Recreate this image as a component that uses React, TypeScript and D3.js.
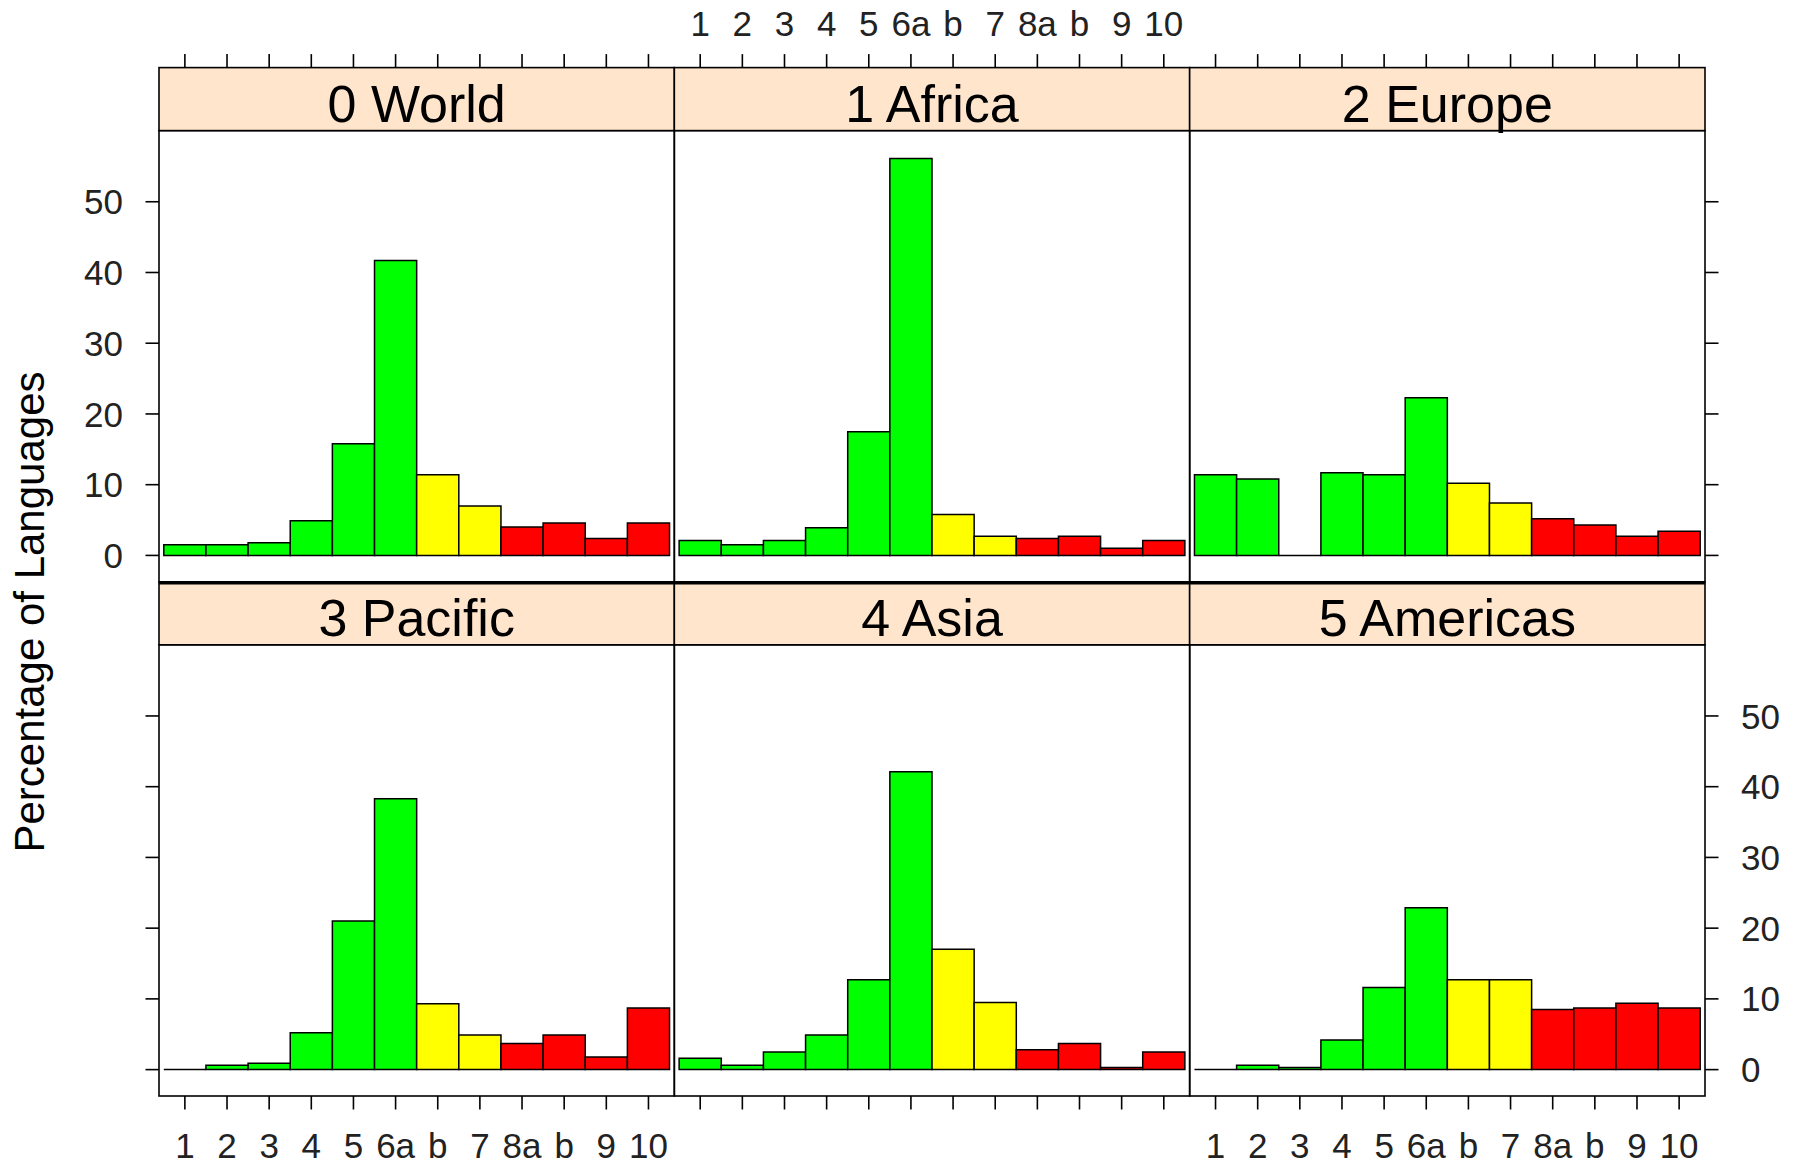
import React from "react";
import * as d3 from "d3";

// ---- data ----
const categories = ["1", "2", "3", "4", "5", "6a", "b", "7", "8a", "b", "9", "10"];
const tiers = ["g", "g", "g", "g", "g", "g", "y", "y", "r", "r", "r", "r"];
const panelTitles = ["0 World", "1 Africa", "2 Europe", "3 Pacific", "4 Asia", "5 Americas"];
const world = [1.5, 1.5, 1.8, 4.9, 15.8, 41.7, 11.4, 7.0, 4.0, 4.6, 2.4, 4.6];
const africa = [2.1, 1.5, 2.1, 3.9, 17.5, 56.1, 5.8, 2.7, 2.4, 2.7, 1.0, 2.1];
const europe = [11.4, 10.8, 0, 11.7, 11.4, 22.3, 10.2, 7.4, 5.2, 4.3, 2.7, 3.4];
const pacific = [0, 0.6, 0.9, 5.2, 21.0, 38.3, 9.3, 4.9, 3.7, 4.9, 1.8, 8.7];
const asia = [1.6, 0.6, 2.5, 4.9, 12.7, 42.1, 17.0, 9.5, 2.8, 3.7, 0.3, 2.5];
const americas = [0, 0.6, 0.3, 4.2, 11.6, 22.9, 12.7, 12.7, 8.5, 8.7, 9.4, 8.7];
const panelValues = [world, africa, europe, pacific, asia, americas];
const yTicks = [0, 10, 20, 30, 40, 50];
const yLabel = "Percentage of Languages";

// ---- style ----
const W = 1796;
const H = 1164;
const FONT = '"Liberation Sans", Arial, Helvetica, sans-serif';
const tierFill: Record<string, string> = { g: "#00ff00", y: "#ffff00", r: "#ff0000" };
const STRIP_BG = "#ffe5cc";
const STRIP_H = 63;
const TICK = 13.5;
const LW = 1.6;
const TICK_FS = 35;
const STRIP_FS = 52;

export default function App() {
  const colX = d3.scaleLinear().domain([0, 3]).range([159, 1705]);
  const rowY = d3.scaleLinear().domain([0, 2]).range([67.6, 1096]);

  const panels = panelValues.map((vals, i) => {
    const col = i % 3;
    const row = Math.floor(i / 3);
    const x0 = colX(col);
    const x1 = colX(col + 1);
    const stripTop = rowY(row);
    const top = stripTop + STRIP_H;
    const bottom = rowY(row + 1);
    const x = d3
      .scaleBand<number>()
      .domain(d3.range(categories.length))
      .range([x0 + 4.8, x1 - 4.8])
      .padding(0);
    const y = d3.scaleLinear().domain([-3.73, 60.06]).range([bottom, top]);
    return { i, col, row, x0, x1, stripTop, top, bottom, x, y, vals };
  });

  return (
    <svg
      width={W}
      height={H}
      viewBox={`0 0 ${W} ${H}`}
      style={{ position: "absolute", left: 0, top: 0, background: "#fff" }}
      fontFamily={FONT}
    >
      <rect x={0} y={0} width={W} height={H} fill="#fff" />
      {panels.map((p) => (
        <g key={p.i}>
          {/* bars */}
          {p.vals.map((v, k) => {
            const xl = p.x(k)!;
            const xr = xl + p.x.bandwidth();
            const y0 = p.y(0);
            const yv = p.y(v);
            return (
              <path
                key={k}
                d={`M${xl},${y0}H${xr}V${yv}H${xl}Z`}
                fill={tierFill[tiers[k]]}
                stroke="#000"
                strokeWidth={1.5}
                strokeLinejoin="miter"
              />
            );
          })}
          {/* panel border */}
          <rect
            x={p.x0}
            y={p.top}
            width={p.x1 - p.x0}
            height={p.bottom - p.top}
            fill="none"
            stroke="#000"
            strokeWidth={LW}
          />
          {/* strip */}
          <rect
            x={p.x0}
            y={p.stripTop}
            width={p.x1 - p.x0}
            height={STRIP_H}
            fill={STRIP_BG}
            stroke="#000"
            strokeWidth={LW}
          />
          <text
            x={(p.x0 + p.x1) / 2}
            y={p.stripTop + 54}
            textAnchor="middle"
            fontSize={STRIP_FS}
            fill="#000"
          >
            {panelTitles[p.i]}
          </text>
          {/* x ticks */}
          {categories.map((c, k) => {
            const cx = p.x(k)! + p.x.bandwidth() / 2;
            if (p.row === 0) {
              return (
                <g key={k}>
                  <line x1={cx} x2={cx} y1={p.stripTop} y2={p.stripTop - TICK} stroke="#000" strokeWidth={LW} />
                  {p.col === 1 && (
                    <text x={cx} y={35.5} textAnchor="middle" fontSize={TICK_FS} fill="#222">
                      {c}
                    </text>
                  )}
                </g>
              );
            }
            return (
              <g key={k}>
                <line x1={cx} x2={cx} y1={p.bottom} y2={p.bottom + TICK} stroke="#000" strokeWidth={LW} />
                {p.col !== 1 && (
                  <text x={cx} y={1157.5} textAnchor="middle" fontSize={TICK_FS} fill="#222">
                    {c}
                  </text>
                )}
              </g>
            );
          })}
          {/* y ticks */}
          {p.col === 0 &&
            yTicks.map((t) => (
              <g key={"l" + t}>
                <line x1={p.x0} x2={p.x0 - TICK} y1={p.y(t)} y2={p.y(t)} stroke="#000" strokeWidth={LW} />
                {p.row === 0 && (
                  <text x={p.x0 - 36} y={p.y(t)} dy="0.36em" textAnchor="end" fontSize={TICK_FS} fill="#222">
                    {t}
                  </text>
                )}
              </g>
            ))}
          {p.col === 2 &&
            yTicks.map((t) => (
              <g key={"r" + t}>
                <line x1={p.x1} x2={p.x1 + TICK} y1={p.y(t)} y2={p.y(t)} stroke="#000" strokeWidth={LW} />
                {p.row === 1 && (
                  <text x={p.x1 + 36} y={p.y(t)} dy="0.36em" textAnchor="start" fontSize={TICK_FS} fill="#222">
                    {t}
                  </text>
                )}
              </g>
            ))}
        </g>
      ))}
      {/* row separator */}
      <line x1={colX(0)} x2={colX(3)} y1={rowY(1) + 1} y2={rowY(1) + 1} stroke="#000" strokeWidth={3.5} />
      {/* y axis title */}
      <text
        transform={`translate(44, 612) rotate(-90)`}
        textAnchor="middle"
        fontSize={42}
        fill="#000"
      >
        {yLabel}
      </text>
    </svg>
  );
}
